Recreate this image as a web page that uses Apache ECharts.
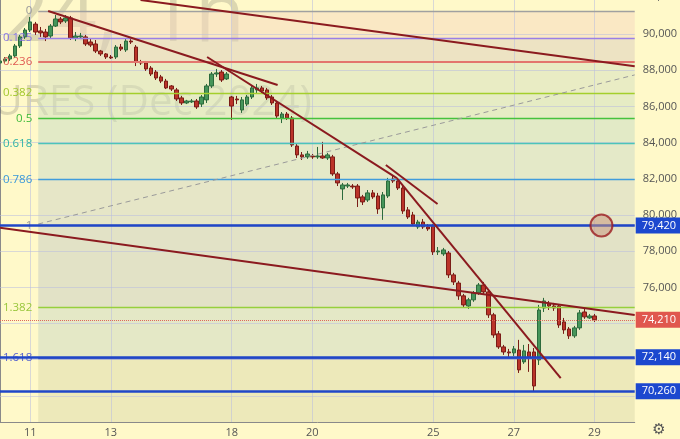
<!DOCTYPE html>
<html><head><meta charset="utf-8">
<script src="https://cdn.jsdelivr.net/npm/echarts@6/dist/echarts.min.js"></script>
<style>html,body{margin:0;padding:0;background:#fff9c9}#c{width:680px;height:439px}</style>
</head><body><div id="c"></div>
<script>
// ---- data ----
const days = ['8','11','12','13','14','15','18','19','20','21','22','25','26','27','28','29'];
const barsPerDay = [6,8,8,8,8,8,8,8,8,8,8,8,8,8,8,9];
const labelDays = ['11','13','18','20','25','27','29'];

const opens = [88400,88510,88620,88790,89340,89840,
 90220,90550,90170,90110,89890,90440,90830,90720,
 90890,89780,89840,89840,89560,89450,89060,88900,
 88730,88730,89280,89120,89610,89280,88460,88400,
 88120,87900,87630,87400,87130,86910,86470,86190,
 86250,86300,86130,86360,87130,87790,87900,87520,
 86520,86410,85800,86130,86520,86910,87020,86910,
 86520,86190,85360,85580,85360,83810,83320,83210,
 83260,83210,83260,83150,83210,82270,81440,81600,
 81600,81600,81000,80830,81220,81050,80390,81050,
 81990,81880,81490,80280,80000,79340,79610,79340,
 79390,77960,77850,77900,76690,76240,75530,74970,
 75310,75690,76130,75750,74480,73430,72710,72430,
 72380,72540,71880,72430,72430,71990,74860,75080,
 74970,74970,74090,73700,73320,73760,74640,74310,
 74420];
const closes = [88510,88620,88790,89340,89840,90220,
 90670,90110,90060,89840,90440,90830,90670,90890,
 89780,89890,89890,89450,89390,89060,88900,88730,
 88680,89280,89170,89610,89560,88460,88400,88070,
 87790,87570,87400,87020,86960,86410,86190,86300,
 86300,85970,86520,87130,87790,87850,87460,87790,
 86020,86360,86360,86520,87020,87020,86850,86470,
 86190,85470,85580,85360,83870,83320,83210,83370,
 83210,83260,83150,83320,82270,81770,81660,81660,
 81550,80940,80720,81220,81000,80330,81110,81880,
 81880,81490,80220,79890,79500,79610,79340,79230,
 77960,78010,78070,76690,76300,75530,75030,75310,
 75690,76130,75750,74480,73370,72710,72430,72380,
 72600,71440,72490,72160,70550,74750,75250,74970,
 74860,73920,73650,73320,73760,74590,74370,74420,
 74210];
const lows = [88290,88400,88510,88680,89230,89730,
 90110,89950,89840,89610,89780,90390,90550,90610,
 89670,89610,89730,89340,89280,88950,88790,88620,
 88620,88620,89060,89010,89450,88230,88290,87960,
 87680,87460,87290,86960,86850,86300,86080,86130,
 86190,85860,85970,86190,87020,87630,87350,87460,
 85250,86130,85640,86020,86410,86740,86740,86360,
 86080,85360,85080,85250,83760,83150,83040,83100,
 83100,83100,83100,83040,82160,81600,80830,81490,
 81440,80440,80550,80720,80890,80060,79730,80940,
 81770,81380,80060,79780,79390,79230,79230,79120,
 77790,77790,77740,76520,76130,75310,74860,74810,
 75200,75580,75640,74310,73210,72600,72270,72160,
 72210,71270,71770,71330,70260,71710,74640,74750,
 74700,73760,73430,73150,73210,73650,74260,74260,
 74090];
const highs = [88620,88730,88900,89450,89950,90330,
 90940,90670,90390,90280,90550,91050,90940,91050,
 91000,90110,90060,89950,89730,89670,89120,88950,
 88840,89390,89450,89780,89780,89390,88570,88510,
 88230,88010,87740,87520,87180,87020,86580,86360,
 86410,86410,86630,87240,87900,88070,88010,87900,
 86580,86580,86520,86630,87130,87240,87130,87020,
 86630,86300,85690,85690,85470,83920,83480,83540,
 83370,83760,84040,83430,83320,82380,81770,81770,
 81710,81710,81110,81380,81380,81220,81270,82050,
 82210,82050,81600,80440,80170,79730,79780,79500,
 79500,78230,78180,78010,76800,76360,75640,75420,
 75800,76240,76300,75860,74590,73590,72820,72600,
 72760,73100,72820,72870,72650,75030,75420,75250,
 75140,75080,74310,73810,73870,74750,74860,74530,
 74530];

const yTickLabels = [76000,78000,80000,82000,84000,86000,88000,90000];
const yGrid = [70000,72000,74000,76000,78000,80000,82000,84000,86000,88000,90000];

const fibHigh = 91270, fibLow = 79420;
const fibLevels = [0,0.125,0.236,0.382,0.5,0.618,0.786,1,1.382,1.618,2.618];
const fibStartBar = 7.59;

const levelLines = [79420, 72140, 70260];
const lastPrice = 74210;

// trend lines: [barIndex, price]
const trendA = [[9.56,91270],[55.11,87180]];
const trendB = [[41.11,88730],[78.77,82040]];
const trendC = [[76.6,82760],[86.86,80610]];
const trendD = [[78.77,82040],[111.31,70990]];
const trendE = [[0,79290],[126,74470]];
const trendG = [[27.9,91880],[126,88220]];
const dashedF = [[7.59,79500],[126,87740]];
const circlePt = [[119.4,79420]];

// ---- build ----
const categories = [];
const dayStart = {};
days.forEach((d,di)=>{ for(let k=0;k<barsPerDay[di];k++){ if(k===0) dayStart[d]=categories.length; categories.push(d+'|'+k);} });
const N = categories.length; // 127
const candleData = categories.map((c,i)=> i<opens.length ? [opens[i],closes[i],lows[i],highs[i]] : '-');
const vGrid = labelDays.map(d=>dayStart[d]);
const fibPrice = l => fibHigh - l*(fibHigh-fibLow);

const fibLineColors = ['#a0a0a0','#9b7fe6','#e3766e','#a4cf2c','#45c23c','#4cc4ba','#3f9cdc','#a0a0a0','#96d03c','#5c6bc0','#888'];
const fibLabelColors = ['#999999','#8a78e0','#e05a52','#a2c72c','#3fbb3a','#30b2a6','#3a98d8','#999999','#98c63a','#5763cc','#888'];
const zoneColors = ['rgba(245,215,191,0.5)','rgba(219,205,189,0.5)','rgba(211,223,191,0.5)','rgba(205,223,191,0.5)',
 'rgba(197,219,195,0.5)','rgba(201,217,199,0.5)','rgba(205,211,197,0.5)','rgba(197,203,195,0.5)','rgba(201,215,195,0.5)','rgba(219,217,171,0.5)'];

const zoneData = [];
for(let i=0;i<fibLevels.length-1;i++){
  zoneData.push([{coord:[fibStartBar,fibPrice(fibLevels[i])],itemStyle:{color:zoneColors[i]}},{coord:[N-1,fibPrice(fibLevels[i+1])]}]);
}
const fibLineData = [];
for(let i=0;i<fibLevels.length-1;i++){
  const p = fibPrice(fibLevels[i]);
  fibLineData.push([{coord:[fibStartBar,p],lineStyle:{color:fibLineColors[i],width:i===2?2:1.3,type:'solid'},
     label:{show:true,position:'start',distance:6,formatter:String(fibLevels[i]),color:fibLabelColors[i]}},{coord:[N-1,p]}]);
}

const FONT = '"Open Sans", "DejaVu Sans", sans-serif';
const trendSeries = [trendA,trendB,trendC,trendD,trendE,trendG].map(d=>({
  type:'line', xAxisIndex:1, yAxisIndex:0, data:d, symbol:'none', z:5, silent:true,
  lineStyle:{color:'#8b1a1f', width:2}
}));

const option = {
  animation:false,
  backgroundColor:'#fff9c9',
  textStyle:{fontFamily:FONT},
  grid:{left:-1.5, right:42.5, top:0, bottom:17, containLabel:false},
  xAxis:[{
    type:'category', data:categories, boundaryGap:false,
    axisLine:{show:true, lineStyle:{color:'#8a8a8a'}},
    axisTick:{show:false},
    axisLabel:{interval:(i,v)=>v.endsWith('|0') && labelDays.includes(v.split('|')[0]),
      formatter:v=>v.split('|')[0], color:'#555', fontSize:11, margin:5, fontFamily:FONT},
    splitLine:{show:false}
  },{
    type:'value', min:0, max:N-1, show:false, splitLine:{show:false}
  }],
  yAxis:[{
    type:'value', position:'right', min:68560, max:91880, scale:true,
    axisLine:{show:true, lineStyle:{color:'#8a8a8a'}},
    axisTick:{show:false},
    splitLine:{show:false},
    axisLabel:{customValues:yTickLabels, formatter:v=>v.toLocaleString('en-US'), color:'#555', fontSize:11, margin:8, fontFamily:FONT}
  }],
  graphic:[
    {type:'text', x:118, y:18, z:1, silent:true, style:{text:'RIZ2024,', font:'82px "Open Sans", sans-serif', fill:'rgba(80,80,80,0.2)', textAlign:'right', textVerticalAlign:'middle'}},
    {type:'text', x:245, y:18, z:1, silent:true, style:{text:'1h', font:'82px "Open Sans", sans-serif', fill:'rgba(80,80,80,0.2)', textAlign:'right', textVerticalAlign:'middle'}},
    {type:'text', x:312, y:103, z:1, silent:true, style:{text:'RTS INDEX FUTURES (Dec 2024)', font:'42px "Open Sans", sans-serif', fill:'rgba(80,80,80,0.2)', textAlign:'right', textVerticalAlign:'middle'}},
    {type:'text', x:645, y:-3, style:{text:'92,000', font:'11px "Open Sans", sans-serif', fill:'#555', textVerticalAlign:'middle'}},
    {type:'text', x:659, y:430, style:{text:'\u2699', font:'15px "DejaVu Sans", sans-serif', fill:'#555', textAlign:'center', textVerticalAlign:'middle'}}
  ],
  series:[
    {type:'line', name:'zones', xAxisIndex:1, data:[], silent:true,
      markArea:{silent:true, z:1, data:zoneData}},
    {type:'line', name:'grid', xAxisIndex:1, data:[], silent:true,
      markLine:{silent:true, z:1.2, symbol:'none', label:{show:false},
        lineStyle:{color:'rgba(185,190,222,0.55)', width:1, type:'solid'},
        data: yGrid.map(v=>({yAxis:v})).concat(vGrid.map(v=>({xAxis:v})))}},
    {type:'candlestick', name:'RIZ2024', xAxisIndex:0, yAxisIndex:0, data:candleData, barWidth:4, z:3,
      itemStyle:{color:'#46955a', color0:'#bb3329', borderColor:'#2c6a3c', borderColor0:'#7a1c17', borderWidth:1}},
    {type:'line', name:'fib', xAxisIndex:1, data:[], silent:true,
      markLine:{silent:true, z:4, symbol:'none', label:{fontSize:11.5, fontFamily:FONT}, data:fibLineData}},
    {type:'line', name:'levels', xAxisIndex:1, data:[], silent:true,
      markLine:{silent:true, z:4.5, symbol:'none',
        data: levelLines.map(v=>({yAxis:v, lineStyle:{color:'#1f46c8', width:2.5, type:'solid'},
          label:{show:true, position:'end', distance:1, formatter:v.toLocaleString('en-US'), color:'#fff',
            backgroundColor:'#1c48cf', padding:[3,6,2,6], fontSize:11, fontFamily:FONT}}))
          .concat([{yAxis:lastPrice, lineStyle:{color:'#e0675c', width:1, type:'dotted'},
          label:{show:true, position:'end', distance:1, formatter:lastPrice.toLocaleString('en-US'), color:'#fff',
            backgroundColor:'#e0574e', padding:[3,6,2,6], fontSize:11, fontFamily:FONT}}])}},
    {type:'line', name:'dashed', xAxisIndex:1, data:dashedF, symbol:'none', z:4, silent:true,
      lineStyle:{color:'#9a9a9a', width:1, type:[5,4]}},
    ...trendSeries,
    {type:'scatter', name:'circle', xAxisIndex:1, data:circlePt, symbol:'circle', symbolSize:22, z:6, silent:true,
      itemStyle:{color:'rgba(200,150,125,0.65)', borderColor:'#9b1b1f', borderWidth:2}}
  ]
};
const chart = echarts.init(document.getElementById('c'), null, {renderer:'canvas'});
chart.setOption(option);
</script></body></html>
